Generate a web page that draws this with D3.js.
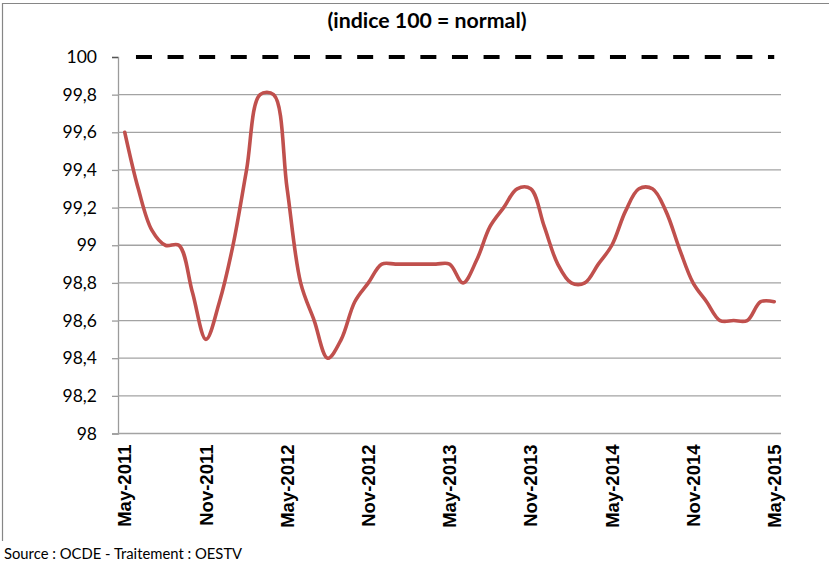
<!DOCTYPE html>
<html>
<head>
<meta charset="utf-8">
<script src="https://cdn.jsdelivr.net/npm/d3@7"></script>
<style>
  html, body { margin: 0; padding: 0; background: #fff; }
  svg { display: block; }
</style>
</head>
<body>
<svg id="chart" width="829" height="564"></svg>
<script>
const months = [
  "May-2011","Jun-2011","Jul-2011","Aug-2011","Sep-2011","Oct-2011","Nov-2011","Dec-2011",
  "Jan-2012","Feb-2012","Mar-2012","Apr-2012","May-2012","Jun-2012","Jul-2012","Aug-2012",
  "Sep-2012","Oct-2012","Nov-2012","Dec-2012","Jan-2013","Feb-2013","Mar-2013","Apr-2013",
  "May-2013","Jun-2013","Jul-2013","Aug-2013","Sep-2013","Oct-2013","Nov-2013","Dec-2013",
  "Jan-2014","Feb-2014","Mar-2014","Apr-2014","May-2014","Jun-2014","Jul-2014","Aug-2014",
  "Sep-2014","Oct-2014","Nov-2014","Dec-2014","Jan-2015","Feb-2015","Mar-2015","Apr-2015",
  "May-2015"
];
const indexValues = [
  99.6, 99.3, 99.08, 99.0, 99.0, 98.75, 98.5, 98.7,
  99.0, 99.4, 99.8, 99.8, 99.3, 98.8, 98.6, 98.4,
  98.5, 98.7, 98.8, 98.9, 98.9, 98.9, 98.9, 98.9,
  98.9, 98.8, 98.92, 99.1, 99.2, 99.3, 99.3, 99.1,
  98.9, 98.8, 98.8, 98.9, 99.0, 99.18, 99.3, 99.3,
  99.18, 98.98, 98.8, 98.7, 98.6, 98.6, 98.6, 98.7,
  98.7
];
const normalValue = 100;
const xTickLabels = ["May-2011","Nov-2011","May-2012","Nov-2012","May-2013","Nov-2013","May-2014","Nov-2014","May-2015"];
const yTickValues = [98, 98.2, 98.4, 98.6, 98.8, 99, 99.2, 99.4, 99.6, 99.8, 100];
const yTickLabels = ["98","98,2","98,4","98,6","98,8","99","99,2","99,4","99,6","99,8","100"];
const titleText = "(indice 100 = normal)";
const sourceText = "Source : OCDE  -  Traitement : OESTV";

const svg = d3.select("#chart");
const plotLeft = 118, plotRight = 781, plotTop = 57, plotBottom = 433.5;

const x = d3.scalePoint().domain(months).range([plotLeft, plotRight]).padding(0.5);
const y = d3.scaleLinear().domain([98, 100]).range([plotBottom, plotTop]);

// frame
svg.append("path")
  .attr("d", `M2.5,541 L2.5,3.5 L829,3.5`)
  .attr("fill", "none").attr("stroke", "#868686").attr("stroke-width", 1.2);

// title
svg.append("text")
  .attr("x", 427).attr("y", 28)
  .attr("text-anchor", "middle")
  .attr("font-family", "Lato, sans-serif").attr("font-weight", "bold")
  .attr("font-size", 21.3).attr("fill", "#000")
  .text(titleText);

// y axis
const yAxis = d3.axisLeft(y)
  .tickValues(yTickValues)
  .tickSize(6)
  .tickFormat((d, i) => yTickLabels[i]);
const gy = svg.append("g").attr("transform", `translate(${plotLeft},0)`).call(yAxis);
gy.select(".domain").attr("stroke", "#9b9b9b").attr("stroke-width", 1.3);
gy.selectAll(".tick line")
  .attr("stroke", d => d === 100 ? "#555" : "#9b9b9b")
  .attr("stroke-width", 1.3);
gy.selectAll(".tick text")
  .attr("x", -21)
  .attr("font-family", "Lato, sans-serif").attr("font-size", 17.5).attr("fill", "#000");

// gridlines
svg.append("g").selectAll("line")
  .data(yTickValues.filter(v => v < 100))
  .join("line")
  .attr("x1", plotLeft).attr("x2", plotRight)
  .attr("y1", d => y(d)).attr("y2", d => y(d))
  .attr("stroke", "#a3a3a3").attr("stroke-width", 1.3);

// x axis labels
const gx = svg.append("g").attr("transform", `translate(0,${plotBottom})`);
gx.selectAll("text")
  .data(xTickLabels)
  .join("text")
  .attr("transform", d => `translate(${x(d)},11) rotate(-90)`)
  .attr("dy", "0.36em")
  .attr("text-anchor", "end")
  .attr("font-family", "'Liberation Sans', Arial, sans-serif")
  .attr("font-weight", "bold").attr("font-size", 18.5).attr("fill", "#000")
  .text(d => d);

// normal line (dashed)
const lineNormal = d3.line().x(d => x(d)).y(() => y(normalValue));
svg.append("path")
  .datum(months)
  .attr("d", lineNormal)
  .attr("fill", "none")
  .attr("stroke", "#000").attr("stroke-width", 4)
  .attr("stroke-dasharray", "16 15.6")
  .attr("stroke-dashoffset", 20.4);

// index line
const lineIdx = d3.line()
  .x((d, i) => x(months[i]))
  .y(d => y(d))
  .curve(d3.curveCatmullRom.alpha(0.5));
svg.append("path")
  .datum(indexValues)
  .attr("d", lineIdx)
  .attr("fill", "none")
  .attr("stroke", "#c0504d").attr("stroke-width", 3.6)
  .attr("stroke-linejoin", "round").attr("stroke-linecap", "round");

// source
svg.append("text")
  .attr("x", 4).attr("y", 559)
  .attr("font-family", "Lato, sans-serif").attr("font-size", 14.8).attr("fill", "#000")
  .text(sourceText);
</script>
</body>
</html>
